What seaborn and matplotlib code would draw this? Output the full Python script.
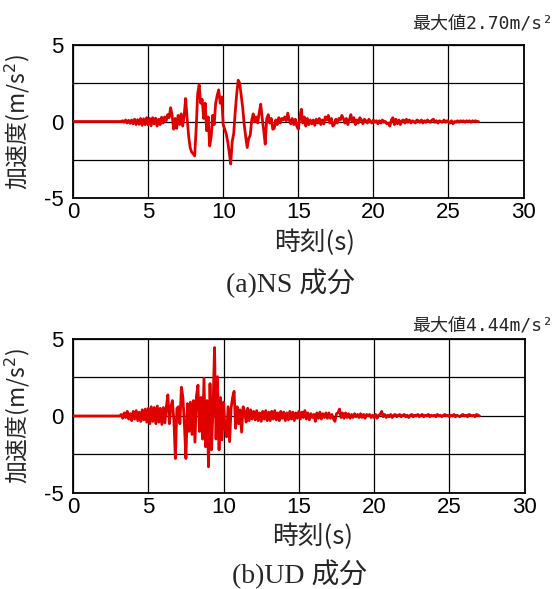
import numpy as np
import pandas as pd
import matplotlib
matplotlib.use("Agg")
import matplotlib.pyplot as plt
import seaborn as sns

# sampled acceleration (m/s^2), 0.1 s steps from 3.0 s to 27.0 s; flat before 3.0 s
start_time = 3.0
step = 0.1

ns_acc = [
    0, 0, 0, 0.05, -0.05, 0.1, -0.1, 0.08, -0.12, 0.1,                  # 3
    -0.15, 0.15, -0.2, 0.12, -0.18, 0.2, -0.25, 0.18, -0.2, 0.25,       # 4
    -0.22, 0.2, -0.28, 0.25, -0.15, 0.22, -0.3, 0.15, -0.2, 0.28,       # 5
    -0.1, 0.3, 0.05, 0.45, 0.25, 0.9, 0.4, -0.5, 0.2, -0.45,            # 6
    0.4, -0.2, 0.5, -0.3, 0.4, 1.5, 0.2, -0.95, -1.7, -2.0,             # 7
    -2.1, -2.25, -0.5, 1.8, 2.4, 1.2, 1.45, 0.2, 1.2, -0.6,             # 8
    0.3, -1.6, -1.0, 0.4, -0.2, 1.2, 1.7, 2.07, 1.2, 1.6,               # 9
    -0.2, -0.5, -0.8, -1.3, -2.0, -2.78, -1.3, -0.8, 0.6, 1.8,          # 10
    2.7, 2.5, 1.67, 0.9, -0.2, -1.0, -1.7, -1.1, -0.9, 0.1,             # 11
    0.5, 0.0, 0.3, -0.1, 0.6, 1.13, 0.2, -0.6, -1.48, 0.2,              # 12
    0.45, -0.1, 0.2, -0.5, -0.45, 0.1, -0.2, 0.25, -0.1, 0.2,           # 13
    0.1, 0.3, 0.05, 0.55, 0.1, -0.15, 0.2, -0.2, 0.15, -0.3,            # 14
    -0.5, 0.2, 0.8, -0.1, 0.3, -0.3, 0.2, -0.2, 0.1, -0.15,             # 15
    0.1, -0.25, 0.15, -0.1, 0.2, -0.2, 0.1, -0.15, 0.3, 0.1,            # 16
    0.4, -0.1, 0.2, -0.3, -0.2, 0.15, -0.1, 0.2, 0.1, 0.4,              # 17
    0.2, -0.1, 0.2, -0.2, 0.1, 0.45, 0.0, 0.25, -0.2, 0.1,              # 18
    -0.1, 0.25, 0.1, -0.15, 0.15, 0.05, -0.1, 0.15, 0.0, -0.1,          # 19
    0.1, -0.05, 0.05, -0.15, 0.05, -0.1, 0.1, -0.05, 0.0, -0.15,        # 20
    -0.1, -0.3, 0.1, 0.25, -0.2, 0.15, -0.15, 0.1, -0.2, 0.05,          # 21
    0.1, -0.1, 0.15, -0.05, 0.1, -0.1, 0.05, 0.0, -0.1, 0.1,            # 22
    0.05, -0.05, 0.1, -0.1, 0.05, -0.05, 0.1, 0.0, -0.05, 0.1,          # 23
    0.15, -0.05, 0.05, -0.1, 0.05, 0.0, -0.05, 0.1, -0.05, 0.05,        # 24
    0.0, -0.1, 0.05, -0.15, 0.0, -0.05, 0.05, -0.05, 0.05, 0.0,         # 25
    0.05, -0.05, 0.05, 0.0, 0.05, -0.05, 0.05, 0.0, 0.05, 0.0,          # 26
    0.0,                                                                # 27
]

ud_acc = [
    0, 0, 0.1, -0.15, 0.2, -0.1, 0.3, -0.2, 0.15, -0.3,                 # 3
    0.3, -0.2, 0.35, -0.3, 0.25, -0.35, 0.4, -0.25, 0.45, -0.4,         # 4
    0.5, -0.5, 0.6, -0.35, 0.55, -0.5, 0.65, -0.4, 0.5, -0.55,          # 5
    0.55, -0.45, 0.6, 1.37, -0.5, 0.6, 1.0, -0.3, -2.76, 0.5,           # 6
    0.6, -0.5, 1.87, 1.2, -0.6, -2.76, 0.8, -1.0, 0.9, -1.2,            # 7
    1.0, -1.7, 1.3, 2.0, -1.0, 1.2, -1.5, 2.45, -2.0, 1.0,              # 8
    -3.3, 2.1, -2.2, 0.5, 4.44, -1.5, 2.55, -2.2, 1.2, -1.55,           # 9
    0.9, -0.8, -1.35, 0.6, -1.67, 0.5, 1.2, 1.6, -0.8, 0.6,             # 10
    -0.5, 0.4, -1.05, 0.6, 0.3, -0.4, 0.5, -0.3, 0.4, -0.2,             # 11
    0.3, -0.25, 0.35, -0.3, 0.2, -0.35, 0.3, -0.2, 0.35, -0.3,          # 12
    0.25, -0.3, 0.3, -0.2, 0.35, -0.25, 0.2, -0.3, 0.3, -0.15,          # 13
    0.25, -0.3, 0.2, -0.25, 0.3, -0.2, 0.25, -0.3, 0.2, -0.15,          # 14
    0.3, -0.2, 0.25, -0.1, 0.35, -0.2, 0.2, -0.25, 0.15, -0.1,          # 15
    0.1, -0.35, 0.2, -0.15, 0.25, -0.2, 0.15, -0.1, 0.2, -0.15,         # 16
    0.2, -0.15, 0.1, -0.2, -0.35, 0.15, 0.2, 0.45, -0.1, 0.2,           # 17
    -0.15, 0.2, -0.1, 0.15, -0.15, 0.1, -0.1, 0.15, -0.05, 0.1,         # 18
    -0.1, 0.15, -0.1, 0.1, -0.15, 0.1, 0.0, 0.1, -0.1, 0.05,            # 19
    -0.1, 0.1, -0.15, 0.05, 0.1, 0.3, -0.05, 0.1, -0.1, 0.05,           # 20
    -0.05, 0.1, -0.1, 0.05, 0.1, -0.05, 0.05, 0.1, -0.05, 0.05,         # 21
    0.1, -0.05, 0.05, -0.1, 0.05, 0.1, -0.05, 0.05, 0.0, 0.1,           # 22
    -0.05, 0.05, 0.1, -0.05, 0.05, 0.0, 0.1, -0.05, 0.05, 0.0,          # 23
    0.05, -0.05, 0.1, 0.0, 0.05, -0.05, 0.05, 0.1, 0.0, 0.05,           # 24
    -0.05, 0.05, 0.0, 0.1, -0.05, 0.05, 0.0, -0.05, 0.05, 0.1,          # 25
    0.0, 0.05, -0.05, 0.1, 0.05, 0.0, 0.05, -0.05, 0.1, 0.05,           # 26
    0.0,                                                                # 27
]

peak_labels = ["最大値2.70m/s²", "最大値4.44m/s²"]
captions = ["(a)NS 成分", "(b)UD 成分"]
x_ticks = [0, 5, 10, 15, 20, 25, 30]
y_ticks = [-5, -2.5, 0, 2.5, 5]
y_tick_labels = ["-5", "", "0", "", "5"]


def to_frame(acc):
    t = [0.0] + [round(start_time + i * step, 2) for i in range(len(acc))]
    return pd.DataFrame({"time": t, "acc": [0.0] + list(acc)})


sns.set_theme(style="white")
plt.rcParams["font.family"] = ["Liberation Sans", "Noto Sans CJK JP"]
cjk = ["Noto Sans CJK JP", "DejaVu Sans"]
mono = ["DejaVu Sans Mono", "Noto Sans CJK JP"]

W, H = 559, 589
fig = plt.figure(figsize=(W / 100, H / 100), dpi=100)
boxes = [[0.1306, 0.6638, 0.806, 0.2598], [0.1306, 0.163, 0.808, 0.2615]]
# pixel positions: (peak y, xlabel x, xlabel y, caption x, caption baseline y)
text_pos = [(23, 315, 243, 290, 292), (326, 313, 537, 300, 583)]

for i, acc in enumerate([ns_acc, ud_acc]):
    ax = fig.add_axes(boxes[i])
    sns.lineplot(data=to_frame(acc), x="time", y="acc", ax=ax,
                 color="#e00000", linewidth=2.0, zorder=3)
    ax.set_xlim(0, 30)
    ax.set_ylim(-5, 5)
    ax.set_xticks(x_ticks)
    ax.set_yticks(y_ticks)
    ax.set_yticklabels(y_tick_labels)
    ax.tick_params(axis="both", labelsize=16, length=0, colors="black")
    ax.tick_params(axis="y", pad=7)
    ax.tick_params(axis="x", pad=3)
    ax.grid(True, color="black", linewidth=0.9)
    for s in ax.spines.values():
        s.set_color("black")
        s.set_linewidth(1.3)
    ax.set_xlabel("")
    ax.set_ylabel("加速度(m/s$^2$)", fontsize=16.5, family=cjk)
    ax.yaxis.set_label_coords(-0.09, 0.5)
    py, xx, xy, cx, cy = text_pos[i]
    fig.text(553 / W, 1 - py / H, peak_labels[i], ha="right", va="center",
             fontsize=13, family=mono)
    fig.text(xx / W, 1 - xy / H, "時刻(s)", ha="center", va="center",
             fontsize=18.5, family=cjk)
    fig.text(cx / W, 1 - cy / H, captions[i], ha="center", va="baseline",
             fontsize=20, family=["Liberation Serif", "Noto Sans CJK JP"])

fig.savefig("out.png", dpi=100)
